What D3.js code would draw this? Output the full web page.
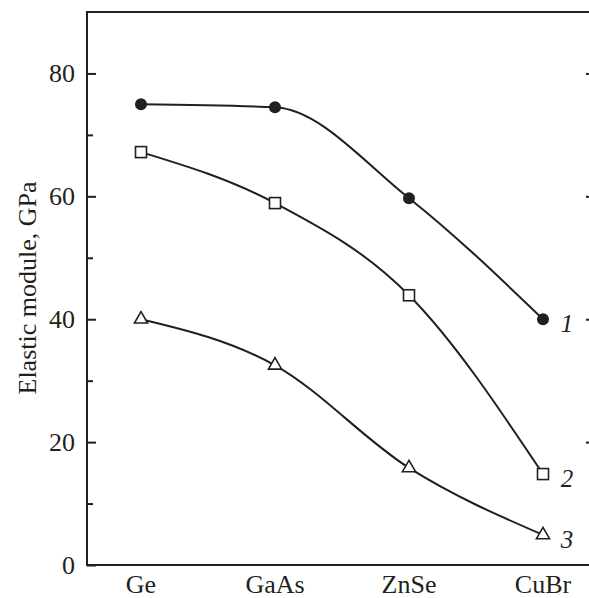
<!DOCTYPE html>
<html>
<head>
<meta charset="utf-8">
<script src="https://cdn.jsdelivr.net/npm/d3@7"></script>
<style>
  body { margin: 0; background: #fff; }
  svg text { font-family: "Liberation Serif", "Times New Roman", serif; fill: #231f20; }
</style>
</head>
<body>
<svg id="chart" width="589" height="598"></svg>
<script>
// data
const categories = ["Ge", "GaAs", "ZnSe", "CuBr"];
const series1 = [75.0, 74.5, 59.7, 40.0];   // filled circles
const series2 = [67.2, 58.9, 43.9, 14.8];   // open squares
const series3 = [40.0, 32.5, 15.8, 4.9];    // open triangles
const seriesLabels = ["1", "2", "3"];
const yTicks = [0, 20, 40, 60, 80];

const ink = "#231f20";
const plotLeft = 87, plotRight = 591, plotTop = 12, plotBottom = 565;

const svg = d3.select("#chart");

const x = d3.scalePoint()
    .domain(categories)
    .range([141, 543]);

const y = d3.scaleLinear()
    .domain([0, 90])
    .range([plotBottom, plotTop]);

// frame
svg.append("rect")
    .attr("x", plotLeft)
    .attr("y", plotTop)
    .attr("width", plotRight - plotLeft)
    .attr("height", plotBottom - plotTop)
    .attr("fill", "none")
    .attr("stroke", ink)
    .attr("stroke-width", 2);

// left axis: major ticks inward, minor every 10
const minor = d3.range(10, 90, 20);
svg.append("g")
    .attr("transform", `translate(${plotLeft},0)`)
    .call(d3.axisRight(y).tickValues(yTicks).tickSize(9).tickFormat(""))
    .call(g => g.select(".domain").remove())
    .call(g => g.selectAll("line").attr("stroke", ink).attr("stroke-width", 2));
svg.append("g")
    .attr("transform", `translate(${plotLeft},0)`)
    .call(d3.axisRight(y).tickValues(minor).tickSize(6).tickFormat(""))
    .call(g => g.select(".domain").remove())
    .call(g => g.selectAll("line").attr("stroke", ink).attr("stroke-width", 2));

// right axis ticks inward
svg.append("g")
    .attr("transform", `translate(${plotRight},0)`)
    .call(d3.axisLeft(y).tickValues(yTicks.slice(1)).tickSize(5).tickFormat(""))
    .call(g => g.select(".domain").remove())
    .call(g => g.selectAll("line").attr("stroke", ink).attr("stroke-width", 2));

// y tick labels
svg.append("g")
    .selectAll("text")
    .data(yTicks)
    .enter()
    .append("text")
    .attr("x", plotLeft - 12)
    .attr("y", d => y(d) + 9)
    .attr("text-anchor", "end")
    .attr("font-size", 26)
    .text(d => d);

// x tick labels
svg.append("g")
    .selectAll("text")
    .data(categories)
    .enter()
    .append("text")
    .attr("x", d => x(d))
    .attr("y", 593)
    .attr("text-anchor", "middle")
    .attr("font-size", 26)
    .text(d => d);

// y title
svg.append("text")
    .attr("transform", `translate(36,288) rotate(-90)`)
    .attr("text-anchor", "middle")
    .attr("font-size", 26)
    .text("Elastic module, GPa");

const line = d3.line()
    .x((d, i) => x(categories[i]))
    .y(d => y(d))
    .curve(d3.curveMonotoneX);

const allSeries = [series1, series2, series3];
allSeries.forEach(s => {
    svg.append("path")
        .datum(s)
        .attr("fill", "none")
        .attr("stroke", ink)
        .attr("stroke-width", 2)
        .attr("d", line);
});

// markers
svg.append("g")
    .selectAll("circle")
    .data(series1)
    .enter()
    .append("circle")
    .attr("cx", (d, i) => x(categories[i]))
    .attr("cy", d => y(d))
    .attr("r", 6)
    .attr("fill", ink);

svg.append("g")
    .selectAll("rect")
    .data(series2)
    .enter()
    .append("rect")
    .attr("x", (d, i) => x(categories[i]) - 5.5)
    .attr("y", d => y(d) - 5.5)
    .attr("width", 11)
    .attr("height", 11)
    .attr("fill", "#fff")
    .attr("stroke", ink)
    .attr("stroke-width", 1.6);

const tri = d3.symbol().type(d3.symbolTriangle).size(75);
svg.append("g")
    .selectAll("path")
    .data(series3)
    .enter()
    .append("path")
    .attr("transform", (d, i) => `translate(${x(categories[i])},${y(d)})`)
    .attr("d", tri)
    .attr("fill", "#fff")
    .attr("stroke", ink)
    .attr("stroke-width", 1.6);

// series labels
svg.append("g")
    .selectAll("text")
    .data(allSeries)
    .enter()
    .append("text")
    .attr("x", 567)
    .attr("y", s => y(s[3]) + 13)
    .attr("text-anchor", "middle")
    .attr("font-size", 25)
    .attr("font-style", "italic")
    .text((s, i) => seriesLabels[i]);
</script>
</body>
</html>
